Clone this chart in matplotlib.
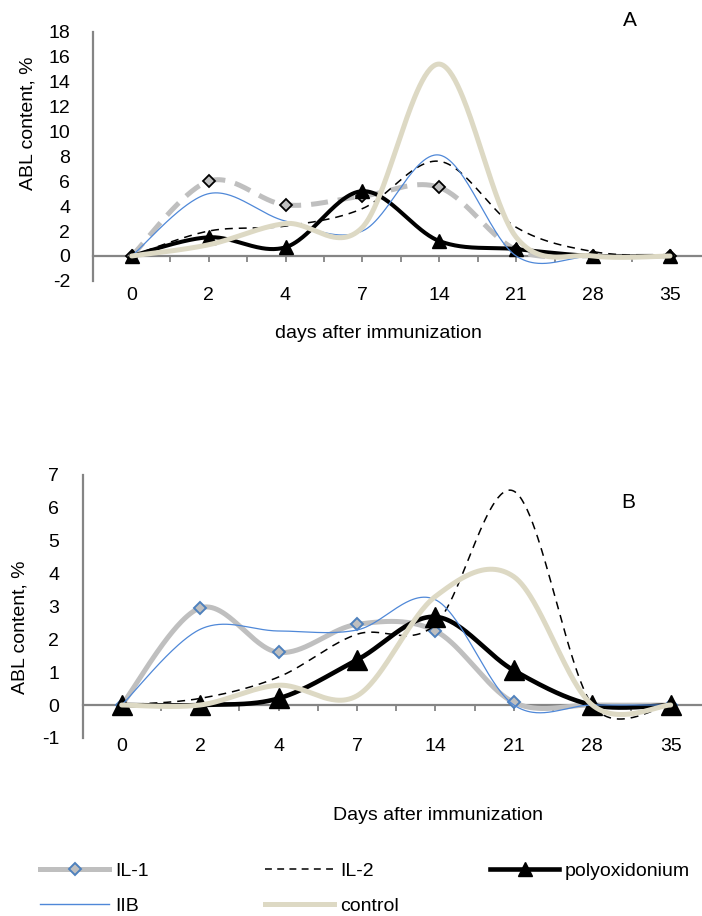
import numpy as np
import matplotlib
matplotlib.use('Agg')
import matplotlib.pyplot as plt
from matplotlib.lines import Line2D

plt.rcParams['font.family'] = ['Liberation Sans', 'DejaVu Sans']
plt.rcParams['axes.unicode_minus'] = False

# ---------------- data ----------------
days = ['0', '2', '4', '7', '14', '21', '28', '35']

# Panel A
a_il1 = [0, 6.0, 4.1, 4.8, 5.5, 0.5, 0, 0]
a_il2 = [0, 2.0, 2.4, 3.8, 7.6, 2.3, 0.35, 0]
a_poly = [0, 1.5, 0.7, 5.2, 1.2, 0.55, 0, 0]
a_iib = [0, 5.0, 2.8, 2.0, 8.1, 0, 0, 0]
a_ctrl = [0, 0.9, 2.6, 2.3, 15.4, 1.5, 0, 0]

# Panel B
b_il1 = [0, 2.95, 1.6, 2.45, 2.25, 0.08, 0, 0]
b_il2 = [0, 0.2, 0.85, 2.15, 2.45, 6.5, 0, 0]
b_poly = [0, 0, 0.2, 1.37, 2.68, 1.05, 0, 0]
b_iib = [0, 2.3, 2.25, 2.28, 3.2, 0, 0, 0]
b_ctrl = [0, 0, 0.6, 0.28, 3.3, 3.9, 0, 0]

labels = ['IL-1', 'IL-2', 'polyoxidonium', 'IIB', 'control']

# ---------------- style ----------------
FS = 14
GRAY_AX = '#858585'
GRAY_L = '#BFBFBF'
BLUE = '#4F88D8'
BEIGE = '#DDD9C4'
EDGE_BLUE = '#4F81BD'

W, H = 702, 916
fig = plt.figure(figsize=(W / 100, H / 100), dpi=100)


def excel_smooth(ax, x, y, npts=60):
    """Bezier smoothing similar to Excel's 'smoothed line', computed in display space."""
    P = ax.transData.transform(np.column_stack([x, y]).astype(float))
    n = len(P)
    U, L, R = [], [], []
    for i in range(n):
        pa = P[max(i - 1, 0)]
        pb = P[i]
        pc = P[min(i + 1, n - 1)]
        chord = pc - pa
        d02 = np.hypot(*chord)
        d01 = np.hypot(*(pb - pa))
        d12 = np.hypot(*(pc - pb))
        u = chord / d02 if d02 > 0 else np.zeros(2)
        U.append(u)
        L.append(min(d02 / 6, d01 / 2) if d01 > 0 else 0.0)
        R.append(min(d02 / 6, d12 / 2) if d12 > 0 else 0.0)
    t = np.linspace(0, 1, npts)[:, None]
    pieces = []
    for i in range(n - 1):
        b0 = P[i]
        b1 = P[i] + U[i] * R[i]
        b2 = P[i + 1] - U[i + 1] * L[i + 1]
        b3 = P[i + 1]
        c = ((1 - t) ** 3) * b0 + 3 * ((1 - t) ** 2) * t * b1 + 3 * (1 - t) * t ** 2 * b2 + t ** 3 * b3
        pieces.append(c if i == 0 else c[1:])
    curve = np.vstack(pieces)
    data = ax.transData.inverted().transform(curve)
    return data[:, 0], data[:, 1]


def setup(ax, ymin, ymax, ystep, xpad, ypad):
    ax.set_xlim(-0.5, 7.5)
    ax.set_ylim(ymin, ymax)
    ax.patch.set_alpha(0)
    for s in ['top', 'right']:
        ax.spines[s].set_visible(False)
    for s in ['left', 'bottom']:
        ax.spines[s].set_color(GRAY_AX)
        ax.spines[s].set_linewidth(1.6)
    ax.spines['bottom'].set_position(('data', 0))
    ax.set_xticks(range(len(days)))
    ax.set_xticklabels(days)
    ax.set_xticks(np.arange(-0.5, len(days) + 0.5, 1.0), minor=True)
    ax.tick_params(axis='x', which='both', length=4.5, width=1.3, color=GRAY_AX, direction='out')
    ax.tick_params(axis='x', which='major', pad=xpad, labelsize=FS)
    ax.set_yticks(np.arange(ymin, ymax + ystep / 2, ystep))
    ax.tick_params(axis='y', length=0, pad=ypad, labelsize=FS)


xs = np.arange(len(days))

# ---------------- Panel A ----------------
axA = fig.add_axes([93.25 / W, 1 - 280.9 / H, 615.2 / W, 249.2 / H])
setup(axA, -2, 18, 2, 17.8, 16.7)

sx, sy = excel_smooth(axA, xs, a_il1)
axA.plot(sx, sy, color=GRAY_L, lw=3.6, dashes=(3.4, 2.0), dash_capstyle='butt', zorder=3)
axA.plot(xs, a_il1, ls='none', marker='D', ms=6.3, mfc=GRAY_L, mec='black', mew=1.3, zorder=3.5)

sx, sy = excel_smooth(axA, xs, a_il2)
axA.plot(sx, sy, color='black', lw=1.1, dashes=(5.2, 3.9), zorder=4)

sx, sy = excel_smooth(axA, xs, a_poly)
axA.plot(sx, sy, color='black', lw=2.9, solid_capstyle='round', zorder=5)
axA.plot(xs, a_poly, ls='none', marker='^', ms=9.5, color='black', zorder=5.5)

sx, sy = excel_smooth(axA, xs, a_iib)
axA.plot(sx, sy, color=BLUE, lw=0.9, zorder=6)

sx, sy = excel_smooth(axA, xs, a_ctrl)
axA.plot(sx, sy, color=BEIGE, lw=3.6, solid_capstyle='round', zorder=7)

# ---------------- Panel B ----------------
axB = fig.add_axes([82.5 / W, 1 - 737.9 / H, 627.4 / W, 263.2 / H])
setup(axB, -1, 7, 1, 19.6, 16.7)

sx, sy = excel_smooth(axB, xs, b_il1)
axB.plot(sx, sy, color=GRAY_L, lw=3.6, solid_capstyle='round', zorder=3)
axB.plot(xs, b_il1, ls='none', marker='D', ms=6.6, mfc=GRAY_L, mec=EDGE_BLUE, mew=1.4, zorder=3.5)

sx, sy = excel_smooth(axB, xs, b_il2)
axB.plot(sx, sy, color='black', lw=1.1, dashes=(5.2, 3.9), zorder=4)

sx, sy = excel_smooth(axB, xs, b_poly)
axB.plot(sx, sy, color='black', lw=3.3, solid_capstyle='round', zorder=5)
axB.plot(xs, b_poly, ls='none', marker='^', ms=14, color='black', zorder=5.5)

sx, sy = excel_smooth(axB, xs, b_iib)
axB.plot(sx, sy, color=BLUE, lw=0.9, zorder=6)

sx, sy = excel_smooth(axB, xs, b_ctrl)
axB.plot(sx, sy, color=BEIGE, lw=3.6, solid_capstyle='round', zorder=7)

# ---------------- texts ----------------
fig.text(630 / W, 1 - 20 / H, 'A', fontsize=FS + 1, ha='center', va='center')
fig.text(628 / W, 1 - 503 / H, 'B', fontsize=FS + 1, ha='center', va='center')
fig.text(28 / W, 1 - 123 / H, 'ABL content, %', fontsize=FS, rotation=90, ha='center', va='center')
fig.text(20.5 / W, 1 - 627 / H, 'ABL content, %', fontsize=FS, rotation=90, ha='center', va='center')
fig.text(378 / W, 1 - 333 / H, 'days after immunization', fontsize=FS, ha='center', va='center')
fig.text(438 / W, 1 - 816 / H, 'Days after immunization', fontsize=FS, ha='center', va='center')

# ---------------- legend ----------------
h_il1 = Line2D([], [], color=GRAY_L, lw=3.6, marker='D', ms=6.6, mfc=GRAY_L, mec=EDGE_BLUE, mew=1.4)
h_il2 = Line2D([], [], color='black', lw=1.1, dashes=(4.5, 3.5))
h_poly = Line2D([], [], color='black', lw=3.3, marker='^', ms=10)
h_iib = Line2D([], [], color=BLUE, lw=1.0)
h_ctrl = Line2D([], [], color=BEIGE, lw=3.6)

common = dict(frameon=False, fontsize=FS, handlelength=3.55, handletextpad=0.3,
              labelspacing=0.9, borderpad=0, borderaxespad=0, loc='upper left')
top_y = 1 - 862 / H
fig.legend([h_il1, h_iib], [labels[0], labels[3]], bbox_to_anchor=(40 / W, top_y), **common)
fig.legend([h_il2, h_ctrl], [labels[1], labels[4]], bbox_to_anchor=(265 / W, top_y), **common)
fig.legend([h_poly], [labels[2]], bbox_to_anchor=(490 / W, top_y), **common)

fig.savefig('out.png', dpi=100)
